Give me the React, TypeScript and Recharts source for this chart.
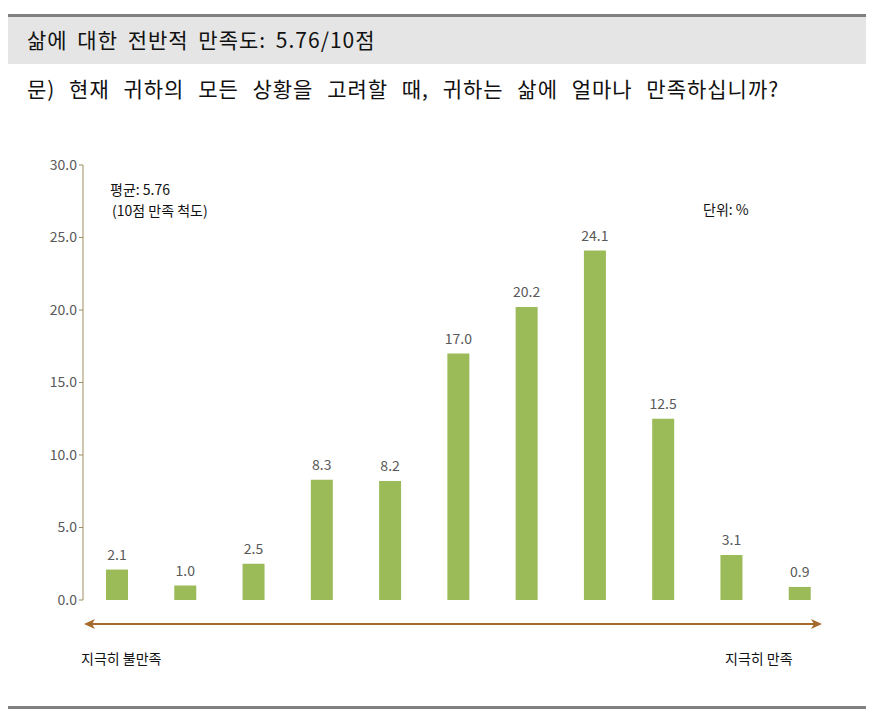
import React from "react";
import { Bar, BarChart, LabelList, XAxis, YAxis } from "recharts";

const categories = ["0", "1", "2", "3", "4", "5", "6", "7", "8", "9", "10"];
const shares = [2.1, 1.0, 2.5, 8.3, 8.2, 17.0, 20.2, 24.1, 12.5, 3.1, 0.9];
const yTicks = [0, 5, 10, 15, 20, 25, 30];

const data = categories.map((name, i) => ({ name, value: shares[i] }));

const KO = "'Noto Sans CJK KR', 'Noto Sans', sans-serif";
const GREEN = "#9bbb59";
const AXIS_COLOR = "#9c8f5f";
const ARROW = "#a5692e";

const abs = (left: number, top: number, extra: React.CSSProperties = {}): React.CSSProperties => ({
  position: "absolute", left, top, whiteSpace: "nowrap", fontFamily: KO, lineHeight: 1, ...extra,
});

export default function App() {
  return (
    <div style={{ position: "absolute", left: 0, top: 0, width: 880, height: 723, background: "#fff", overflow: "hidden" }}>
      {/* header band */}
      <div style={{ position: "absolute", left: 8, top: 14, width: 858, height: 3, background: "#808080" }} />
      <div style={{ position: "absolute", left: 8, top: 17, width: 858, height: 47, background: "#e5e5e5" }} />
      <div style={abs(27, 29, { fontSize: 21, letterSpacing: 1, wordSpacing: 4, color: "#111" })}>
        삶에 대한 전반적 만족도: 5.76/10점
      </div>
      <div style={abs(27, 78, { fontSize: 21, letterSpacing: 1, wordSpacing: 8, color: "#111" })}>
        문) 현재 귀하의 모든 상황을 고려할 때, 귀하는 삶에 얼마나 만족하십니까?
      </div>

      <div style={{ position: "absolute", left: 0, top: 0 }}>
        <BarChart width={880} height={723} data={data} margin={{ top: 165, right: 46, bottom: 123, left: 23 }} barCategoryGap={23}>
          <XAxis dataKey="name" hide />
          <YAxis
            domain={[0, 30]}
            ticks={yTicks}
            width={60}
            tickFormatter={(v: number) => v.toFixed(1)}
            axisLine={{ stroke: AXIS_COLOR }}
            tickLine={{ stroke: AXIS_COLOR }}
            tickSize={4}
            tick={{ fill: "#595959", fontSize: 14, fontFamily: KO }}
          />
          <Bar dataKey="value" fill={GREEN} isAnimationActive={false}>
            <LabelList
              dataKey="value"
              position="top"
              offset={10}
              formatter={(v: number) => v.toFixed(1)}
              style={{ fill: "#595959", fontSize: 14, fontFamily: KO }}
            />
          </Bar>
        </BarChart>
      </div>

      <div style={abs(110, 182, { fontSize: 14, color: "#111" })}>평균: 5.76</div>
      <div style={abs(112, 203, { fontSize: 14, color: "#111" })}>(10점 만족 척도)</div>
      <div style={abs(703, 202, { fontSize: 14, color: "#111" })}>단위: %</div>

      <svg style={{ position: "absolute", left: 0, top: 0 }} width={880} height={723}>
        <line x1={92} y1={624} x2={814} y2={624} stroke={ARROW} strokeWidth={2} />
        <polygon points="84,624 95,619 92,624 95,629" fill={ARROW} />
        <polygon points="822,624 811,619 814,624 811,629" fill={ARROW} />
      </svg>

      <div style={abs(81, 651, { fontSize: 14, color: "#111" })}>지극히 불만족</div>
      <div style={abs(725, 651, { fontSize: 14, color: "#111" })}>지극히 만족</div>

      <div style={{ position: "absolute", left: 8, top: 706, width: 858, height: 3, background: "#808080" }} />
    </div>
  );
}
